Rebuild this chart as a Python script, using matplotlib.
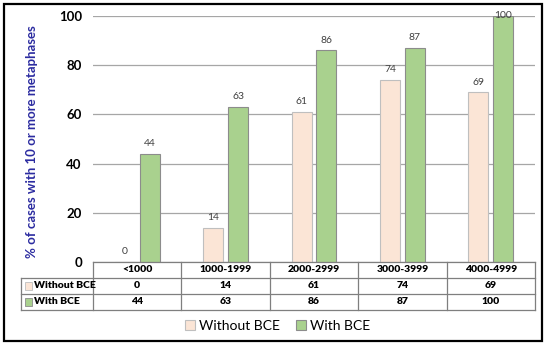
import matplotlib.pyplot as plt
from matplotlib.patches import Rectangle

plt.rcParams['font.family'] = ['Lato', 'DejaVu Sans']

categories = ["<1000", "1000-1999", "2000-2999", "3000-3999", "4000-4999"]
without_bce = [0, 14, 61, 74, 69]
with_bce = [44, 63, 86, 87, 100]
series_names = ["Without BCE", "With BCE"]
yticks = [0, 20, 40, 60, 80, 100]

pink = "#FBE5D6"
green = "#A9D18E"
pink_edge = "#BFBFBF"
green_edge = "#8C8C8C"
grid_col = "#A6A6A6"
line_col = "#7F7F7F"

W, H = 550, 348
fig = plt.figure(figsize=(W / 100, H / 100), dpi=100)

# plot area in pixels
left, right, top, bottom = 93, 535, 16, 262
ax = fig.add_axes([left / W, 1 - bottom / H, (right - left) / W, (bottom - top) / H])

x = list(range(len(categories)))
bw = 0.226
off = 0.141
b1 = ax.bar([i - off for i in x], without_bce, bw, color=pink, edgecolor=pink_edge,
            linewidth=0.8, label=series_names[0], zorder=3)
b2 = ax.bar([i + off for i in x], with_bce, bw, color=green, edgecolor=green_edge,
            linewidth=0.8, label=series_names[1], zorder=3)

ymax = 100
for bars, vals in ((b1, without_bce), (b2, with_bce)):
    for rect, v in zip(bars, vals):
        # label at the top of the scale is squeezed down onto the bar, like Excel
        dy = -3 if v >= ymax else 4
        ax.annotate(str(v), (rect.get_x() + rect.get_width() / 2, v),
                    xytext=(0, dy), textcoords="offset points",
                    ha="center", va="bottom", fontsize=7.5, color="#404040",
                    zorder=5)

ax.set_xlim(-0.5, len(categories) - 0.5)
ax.set_ylim(0, ymax)
ax.set_yticks(yticks)
ax.set_yticklabels([str(t) for t in yticks], fontsize=9.5, fontweight="bold")
ax.tick_params(axis="y", length=0, pad=8)
ax.set_xticks([])
ax.yaxis.grid(True, color=grid_col, linewidth=0.9)
ax.set_axisbelow(True)
for s in ax.spines.values():
    s.set_visible(False)
ax.set_ylabel("% of cases with 10 or more metaphases", fontsize=9.5,
              fontweight="bold", color="#2B2BA0")
ax.yaxis.set_label_coords(-0.125, 0.49)

# data table below the plot
lab_w = (93 - 21) / ((right - left) / len(categories))
tab_top, tab_bot = 262, 310
tax = fig.add_axes([21 / W, 1 - tab_bot / H, (right - 21) / W, (tab_bot - tab_top) / H])
tax.set_xlim(-0.5 - lab_w, len(categories) - 0.5)
tax.set_ylim(3, 0)
tax.axis("off")
lk = dict(color=line_col, linewidth=0.9, clip_on=False)
tax.plot([-0.5, len(categories) - 0.5], [0, 0], **lk)
for r in (1, 2, 3):
    tax.plot([-0.5 - lab_w, len(categories) - 0.5], [r, r], **lk)
tax.plot([-0.5 - lab_w, -0.5 - lab_w], [1, 3], **lk)
for k in range(len(categories) + 1):
    tax.plot([k - 0.5, k - 0.5], [0, 3], **lk)

fs_tab = 7.5
for i, c in enumerate(categories):
    tax.text(i, 0.5, c, ha="center", va="center", fontsize=fs_tab, fontweight="heavy")
    tax.text(i, 1.5, str(without_bce[i]), ha="center", va="center", fontsize=fs_tab, fontweight="heavy")
    tax.text(i, 2.5, str(with_bce[i]), ha="center", va="center", fontsize=fs_tab, fontweight="heavy")

sq = 0.075
for r, (name, fc, ec) in enumerate(zip(series_names, (pink, green), (pink_edge, green_edge))):
    x0 = -0.5 - lab_w + 0.05
    tax.add_patch(Rectangle((x0, r + 1.5 - 0.22), sq, 0.44, facecolor=fc,
                            edgecolor=ec, linewidth=0.6, clip_on=False))
    tax.text(x0 + sq + 0.025, r + 1.5, name, ha="left", va="center",
             fontsize=fs_tab, fontweight="heavy")

fig.legend(handles=[b1, b2], labels=series_names, loc="center",
           bbox_to_anchor=(0.505, 1 - 326 / H), ncol=2, frameon=False,
           fontsize=10, handlelength=0.7, handleheight=0.7, handletextpad=0.3,
           columnspacing=1.2)

fig.patches.append(Rectangle((4 / W, 1 - 341 / H), 538 / W, 337 / H,
                             transform=fig.transFigure, fill=False,
                             edgecolor="black", linewidth=1.6))

fig.savefig("out.png", dpi=100)
